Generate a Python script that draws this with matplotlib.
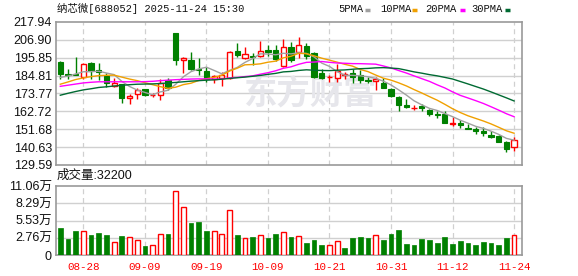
import numpy as np
import pandas as pd
import matplotlib
matplotlib.use('Agg')
import matplotlib.pyplot as plt
from matplotlib.lines import Line2D
from matplotlib.patches import Rectangle

# ---------------- data ----------------
dates = ['08-25', '08-26', '08-27', '08-28', '08-29',
         '09-01', '09-02', '09-03', '09-04', '09-05',
         '09-08', '09-09', '09-10', '09-11', '09-12',
         '09-15', '09-16', '09-17', '09-18', '09-19',
         '09-22', '09-23', '09-24', '09-25', '09-26',
         '09-29', '09-30', '10-09', '10-10',
         '10-13', '10-14', '10-15', '10-16', '10-17',
         '10-20', '10-21', '10-22', '10-23', '10-24',
         '10-27', '10-28', '10-29', '10-30', '10-31',
         '11-03', '11-04', '11-05', '11-06', '11-07',
         '11-10', '11-11', '11-12', '11-13', '11-14',
         '11-17', '11-18', '11-19', '11-20', '11-21',
         '11-24']

opens = [193.3, 185.9, 185.7, 183.7, 192.7, 188.2, 184.5, 178.6, 179.6, 170.8,
         173.3, 176.4, 172.6, 173.0, 182.0, 211.0, 194.6, 194.4, 189.0, 187.8,
         182.8, 183.3, 183.5, 200.0, 195.5, 196.9, 196.8, 200.4, 200.7, 190.8,
         202.8, 199.4, 203.0, 198.5, 186.2, 183.8, 183.2, 185.4, 186.2, 185.0,
         182.0, 181.3, 180.5, 176.5, 171.8, 166.8, 164.5, 165.9, 163.6, 160.8,
         161.2, 155.1, 155.3, 152.2, 151.8, 150.9, 148.4, 147.7, 143.6, 140.5]
highs = [194.0, 188.8, 196.2, 192.8, 193.0, 192.7, 186.2, 183.1, 179.8, 173.5,
         177.0, 176.8, 174.1, 182.6, 183.3, 211.2, 196.2, 199.5, 196.0, 190.0,
         185.5, 187.2, 199.8, 204.8, 202.5, 198.6, 206.2, 203.8, 203.8, 207.5,
         205.3, 208.5, 205.0, 199.5, 189.0, 185.2, 192.0, 187.2, 188.7, 188.0,
         184.1, 184.0, 183.5, 177.0, 172.0, 170.3, 166.5, 167.3, 164.0, 163.0,
         163.2, 159.0, 157.5, 155.0, 153.0, 153.0, 150.5, 148.0, 144.7, 147.0]
lows = [182.7, 182.7, 185.0, 183.0, 182.7, 182.1, 177.6, 177.9, 167.7, 167.1,
        170.6, 172.5, 171.5, 170.0, 175.7, 191.3, 186.6, 188.0, 185.3, 181.0,
        180.0, 178.7, 183.0, 196.3, 195.2, 191.3, 196.5, 197.0, 194.0, 190.0,
        193.0, 195.5, 195.0, 183.2, 183.0, 181.0, 181.0, 182.5, 180.3, 180.0,
        180.0, 175.7, 176.9, 171.8, 163.2, 164.6, 163.6, 163.2, 159.8, 158.5,
        155.3, 153.4, 152.4, 151.8, 149.0, 147.4, 146.3, 144.0, 137.4, 138.0]
closes = [185.8, 185.5, 185.2, 192.1, 187.8, 187.0, 180.0, 180.3, 171.2, 172.0,
          175.9, 172.7, 173.1, 180.0, 177.0, 194.4, 196.0, 189.0, 188.2, 182.5,
          184.4, 185.5, 199.6, 197.3, 198.0, 196.2, 200.2, 199.2, 194.8, 202.7,
          194.3, 203.8, 197.0, 184.0, 183.5, 184.2, 187.6, 185.9, 183.7, 182.0,
          181.3, 182.7, 177.3, 172.0, 166.7, 165.2, 165.0, 164.9, 161.1, 160.2,
          155.6, 155.5, 154.0, 151.9, 150.5, 149.2, 146.9, 144.1, 139.5, 145.0]
close_before = 187.0   # close of the day before the first bar

# volume in 万 (10k)
volumes = [4.38, 2.62, 3.85, 3.79, 3.21, 3.53, 3.21, 2.03, 3.05, 2.83,
           2.40, 1.44, 1.60, 3.31, 3.37, 10.20, 7.64, 5.13, 5.29, 3.85,
           3.79, 3.31, 7.16, 3.15, 2.67, 2.89, 3.15, 2.72, 3.37, 3.63,
           2.89, 2.99, 1.92, 2.40, 1.60, 1.55, 2.19, 1.12, 2.72, 2.89,
           2.72, 3.15, 2.46, 3.37, 4.01, 1.76, 1.60, 2.56, 2.40, 1.92,
           2.89, 1.76, 2.24, 1.92, 1.60, 2.08, 1.87, 1.60, 2.72, 3.22]

# moving-average values for days before the window is full
ma5_head = [183.7, 184.5, 185.8, 187.2]
ma10_head = [179.5, 180.9, 182.4, 183.4, 184.2, 184.8, 185.0, 185.1, 183.9]
ma20_head = [178.2, 178.9, 179.6, 180.3, 180.7, 181.0, 181.0, 181.0, 181.0, 181.0,
             181.0, 181.1, 181.3, 181.7, 182.0, 182.3, 182.5, 182.7, 182.8]
ma30_head = [172.7, 173.9, 175.0, 176.0, 176.7, 177.5, 177.9, 178.4, 178.8, 179.2,
             179.5, 179.6, 179.7, 179.9, 180.3, 180.6, 181.0, 181.4, 181.7, 182.0,
             182.2, 182.6, 183.1, 183.5, 183.9, 184.4, 184.9, 185.6, 186.2]

price_ticks = [129.59, 140.63, 151.68, 162.72, 173.77, 184.81, 195.85, 206.90, 217.94]
vol_ticks = [0, 2.76, 5.53, 8.29, 11.06]
vol_tick_labels = ['0', '2.76万', '5.53万', '8.29万', '11.06万']
xtick_dates = ['08-28', '09-09', '09-19', '10-09', '10-21', '10-31', '11-12', '11-24']

title = '纳芯微[688052] 2025-11-24 15:30'
vol_title = '成交量:32200'
ma_names = ['5PMA', '10PMA', '20PMA', '30PMA']
ma_colors = ['#a0a0a0', '#f0a000', '#ff00ff', '#006a32']

# ---------------- derived ----------------
n = len(dates)
x = np.arange(n)
cl = pd.Series(closes)


def ma(period, head):
    s = cl.rolling(period).mean().to_numpy()
    s[:period - 1] = head
    return s


mas = [ma(5, ma5_head), ma(10, ma10_head), ma(20, ma20_head), ma(30, ma30_head)]
prev = np.array([close_before] + closes[:-1])
vol_up = np.array(closes) >= prev

RED = '#ff0000'
GREEN = '#008000'
GRID = '#d0d0d0'
SPINE = '#999999'

fig = plt.figure(figsize=(5.78, 2.76), dpi=100)
W, H = 578, 276
axp = fig.add_axes([56 / W, 1 - 165 / H, 466 / W, 143 / H])
axv = fig.add_axes([56 / W, 1 - 255 / H, 466 / W, 69 / H])

xlim = (-0.56, 60.03)
tick_idx = [dates.index(d) for d in xtick_dates]

for ax in (axp, axv):
    ax.set_xlim(*xlim)
    for s in ax.spines.values():
        s.set_color(SPINE)
        s.set_linewidth(1.2)
    for t in tick_idx:
        ax.axvline(t, color=GRID, lw=0.9, ls=(0, (4, 3)), zorder=0)
    ax.tick_params(length=0)
    ax.set_xticks([])

# price panel
axp.set_ylim(price_ticks[0], price_ticks[-1])
axp.set_yticks(price_ticks)
axp.set_yticklabels([f'{v:.2f}' for v in price_ticks], family='Liberation Sans',
                    fontsize=9, color='#111111')
axp.tick_params(axis='y', pad=3)
for v in price_ticks[1:-1]:
    axp.axhline(v, color=GRID, lw=1.0, zorder=0)

axp.text(0.545, 0.49, '东方财富', transform=axp.transAxes, ha='center', va='center',
         fontsize=24, fontweight='bold', color='#e6e6eb', family='Noto Sans CJK SC',
         zorder=0.5)

bw = 0.68
for i in range(n):
    o, h, l, c = opens[i], highs[i], lows[i], closes[i]
    up = c >= o
    col = RED if up else GREEN
    axp.vlines(x[i], l, h, color=col, lw=1.0, zorder=2)
    bottom = min(o, c)
    height = max(abs(c - o), 0.25)
    if up:
        axp.add_patch(Rectangle((x[i] - bw / 2, bottom), bw, height, facecolor='white',
                                edgecolor=col, lw=1.0, zorder=3))
    else:
        axp.add_patch(Rectangle((x[i] - bw / 2, bottom), bw, height, facecolor=col,
                                edgecolor=col, lw=0.8, zorder=3))

for m, col in zip(mas, ma_colors):
    axp.plot(x, m, color=col, lw=1.0, zorder=4)

# volume panel
axv.set_ylim(0, vol_ticks[-1])
axv.set_yticks(vol_ticks)
axv.set_yticklabels(vol_tick_labels, family=['Liberation Sans', 'Noto Sans CJK SC'],
                    fontsize=9, color='#111111')
axv.tick_params(axis='y', pad=3)
for v in vol_ticks[1:-1]:
    axv.axhline(v, color=GRID, lw=1.0, zorder=0)
vb = 0.62
for i in range(n):
    if vol_up[i]:
        axv.bar(x[i], volumes[i], width=vb, facecolor='white', edgecolor=RED, lw=1.0, zorder=3)
    else:
        axv.bar(x[i], volumes[i], width=vb, facecolor=GREEN, edgecolor=GREEN, lw=0.5, zorder=3)

for t in tick_idx:
    axv.text(t, -0.10, dates[t], transform=axv.get_xaxis_transform(), ha='center', va='top',
             color=RED, fontsize=7.8, family='Liberation Mono')

# texts
fig.text(57 / W, 1 - 9 / H, title, ha='left', va='center', fontsize=7.5,
         family=['Liberation Mono', 'Noto Sans CJK SC'], color='#111111')
fig.text(57 / W, 1 - 176 / H, vol_title, ha='left', va='center', fontsize=9,
         family=['Liberation Sans', 'Noto Sans CJK SC'], color='#111111')

# legend
leg_x = [338, 380, 425, 471]
dash_x = [365, 412, 460, 505]
for name, col, lx, dx in zip(ma_names, ma_colors, leg_x, dash_x):
    fig.text(lx / W, 1 - 9.5 / H, name, ha='left', va='center', fontsize=7.6,
             family='Liberation Mono', color='#111111')
    fig.add_artist(Line2D([dx / W, (dx + 5) / W], [1 - 9.5 / H, 1 - 9.5 / H],
                          color=col, lw=2.5, solid_capstyle='butt'))

fig.savefig('out.png', dpi=100)
